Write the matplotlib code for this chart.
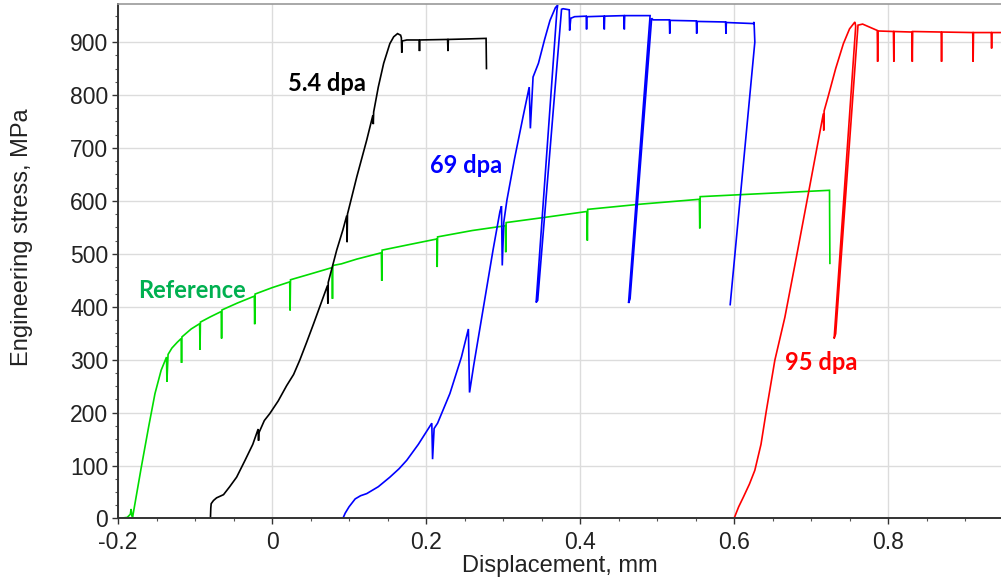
"""Engineering stress vs displacement for the reference and irradiated specimens."""

import matplotlib
matplotlib.use("Agg")
import matplotlib.pyplot as plt
from matplotlib.ticker import MultipleLocator

# Reference (unirradiated) curve, with the small unloading dips
ref_x = [-0.200, -0.188, -0.184, -0.183, -0.182, -0.181, -0.170, -0.160, -0.152, -0.144,
         -0.137, -0.1365, -0.135, -0.130, -0.123, -0.118, -0.1175, -0.117, -0.105,
         -0.094, -0.0935, -0.093, -0.080, -0.066, -0.0655, -0.065, -0.045,
         -0.023, -0.0225, -0.022, 0.000, 0.023, 0.0235, 0.024, 0.050,
         0.078, 0.0785, 0.079, 0.090, 0.110, 0.142, 0.1425, 0.143, 0.180,
         0.214, 0.2145, 0.215, 0.260, 0.303, 0.3035, 0.304, 0.360,
         0.409, 0.4095, 0.410, 0.480, 0.555, 0.5555, 0.556, 0.640, 0.724, 0.7245]
ref_y = [0, 2, 8, 18, 5, 3, 95, 175, 236, 280,
         305, 258, 310, 322, 333, 340, 294, 343, 358,
         368, 319, 371, 381, 391, 340, 394, 407,
         420, 367, 424, 436, 447, 393, 451, 462,
         474, 415, 478, 481, 490, 502, 449, 507, 518,
         528, 475, 532, 544, 553, 503, 559, 570,
         580, 525, 584, 594, 603, 548, 608, 614, 620, 482]

# 5.4 dpa
d5_x = [-0.080, -0.0795, -0.079, -0.076, -0.072, -0.063, -0.055, -0.046, -0.035, -0.025,
        -0.018, -0.0175, -0.017, -0.010, -0.003, 0.008, 0.019, 0.028, 0.036, 0.045,
        0.054, 0.064, 0.072, 0.0725, 0.073, 0.084, 0.092, 0.097, 0.0975, 0.098,
        0.110, 0.123, 0.131, 0.1315, 0.132, 0.138, 0.145, 0.153, 0.158, 0.163,
        0.167, 0.168, 0.1685, 0.169, 0.175, 0.191, 0.1915, 0.192, 0.228, 0.2285,
        0.229, 0.255, 0.278, 0.2785]
d5_y = [0, 20, 28, 34, 39, 45, 60, 78, 110, 140,
        169, 147, 162, 185, 198, 222, 251, 272, 299, 333,
        368, 408, 440, 406, 446, 507, 545, 572, 522, 575,
        645, 715, 762, 745, 768, 815, 860, 897, 910, 916,
        913, 908, 880, 902, 904, 904, 883, 904, 905, 883,
        905, 906, 907, 850]

# 69 dpa, with three unload/reload loops
d69_x = [0.092, 0.095, 0.100, 0.108, 0.115, 0.123, 0.138, 0.153, 0.165, 0.175,
         0.190, 0.2075, 0.2085, 0.2105, 0.215, 0.231, 0.246, 0.255, 0.2565, 0.262,
         0.287, 0.296, 0.298, 0.299, 0.301, 0.305, 0.315, 0.326, 0.334, 0.3355,
         0.339, 0.346, 0.354, 0.361, 0.368, 0.371, 0.370, 0.343, 0.345, 0.376,
         0.378, 0.386, 0.3865, 0.388, 0.393, 0.408, 0.4085, 0.409, 0.431, 0.4315,
         0.432, 0.457, 0.4575, 0.458, 0.491, 0.463, 0.465, 0.493, 0.495, 0.516,
         0.5165, 0.517, 0.551, 0.5515, 0.552, 0.589, 0.5895, 0.590, 0.625, 0.626,
         0.627, 0.595]
d69_y = [0, 10, 22, 37, 43, 47, 60, 78, 94, 110,
         140, 180, 112, 170, 180, 236, 305, 358, 238, 290,
         507, 580, 590, 478, 560, 601, 680, 759, 815, 737,
         834, 860, 905, 941, 965, 970, 960, 408, 412, 962,
         963, 961, 922, 945, 948, 949, 924, 948, 949, 924,
         949, 950, 924, 950, 950, 407, 415, 945, 942, 942,
         916, 941, 940, 916, 939, 938, 916, 937, 935, 938,
         900, 404]

# 95 dpa, one unload/reload loop then the plateau
d95_x = [0.600, 0.606, 0.612, 0.620, 0.627, 0.635, 0.642, 0.653, 0.666, 0.681,
         0.699, 0.716, 0.7165, 0.717, 0.722, 0.732, 0.742, 0.750, 0.757, 0.758,
         0.730, 0.732, 0.761, 0.767, 0.786, 0.7865, 0.787, 0.807, 0.8075, 0.808,
         0.831, 0.8315, 0.832, 0.869, 0.8695, 0.870, 0.910, 0.9105, 0.911, 0.934,
         0.9345, 0.935, 0.950]
d95_y = [0, 22, 40, 65, 91, 140, 204, 299, 380, 494,
         633, 765, 733, 770, 796, 850, 897, 925, 938, 930,
         340, 349, 932, 934, 922, 863, 921, 920, 863, 920,
         919, 863, 920, 919, 863, 919, 918, 863, 918, 918,
         888, 918, 918]

curves = [
    (ref_x, ref_y, "#00dd00"),
    (d5_x, d5_y, "black"),
    (d69_x, d69_y, "#0000ff"),
    (d95_x, d95_y, "#ff0000"),
]

# label text, left x, baseline y, colour
labels = [
    ("5.4 dpa", 0.021, 808, "black"),
    ("69 dpa", 0.205, 653, "#0000ff"),
    ("Reference", -0.174, 417, "#00b050"),
    ("95 dpa", 0.666, 281, "#ff0000"),
]

plt.rcParams["font.family"] = ["Liberation Sans", "DejaVu Sans"]
fig = plt.figure(figsize=(10.01, 5.85), dpi=100)
ax = fig.add_axes([0.1179, 0.1137, 0.8831, 0.8795])

for xs, ys, c in curves:
    ax.plot(xs, ys, color=c, linewidth=1.2, solid_joinstyle="miter")

for txt, x, y, c in labels:
    ax.text(x, y, txt, color=c, fontsize=17, fontweight="bold",
            family=["Lato", "DejaVu Sans"], ha="left", va="baseline")

ax.set_xlim(-0.2, 0.948)
ax.set_ylim(0, 972)
ax.xaxis.set_minor_locator(MultipleLocator(0.05))
ax.yaxis.set_major_locator(MultipleLocator(100))
ax.yaxis.set_minor_locator(MultipleLocator(25))
ax.set_xticks([-0.2, 0, 0.2, 0.4, 0.6, 0.8])
ax.set_xticklabels(["-0.2", "0", "0.2", "0.4", "0.6", "0.8"])

ax.grid(which="major", color="#dcdcdc", linewidth=1.0)
ax.set_axisbelow(True)
ax.tick_params(which="major", direction="out", length=4, width=1, color="#333333",
               labelsize=16.5, pad=3, labelcolor="#222222")
ax.tick_params(axis="x", which="major", pad=5)
ax.tick_params(which="minor", direction="out", length=2.5, width=0.8, color="#555555")

for side in ("left", "bottom"):
    ax.spines[side].set_color("#333333")
    ax.spines[side].set_linewidth(1.4)
ax.spines["top"].set_color("#999999")
ax.spines["top"].set_linewidth(1.2)
ax.spines["right"].set_visible(False)

ax.set_xlabel("Displacement, mm", fontsize=17, color="#222222", labelpad=1)
ax.set_ylabel("Engineering stress, MPa", fontsize=17, color="#222222")
ax.yaxis.set_label_coords(-0.096, 0.547)

fig.savefig("out.png", dpi=100)
